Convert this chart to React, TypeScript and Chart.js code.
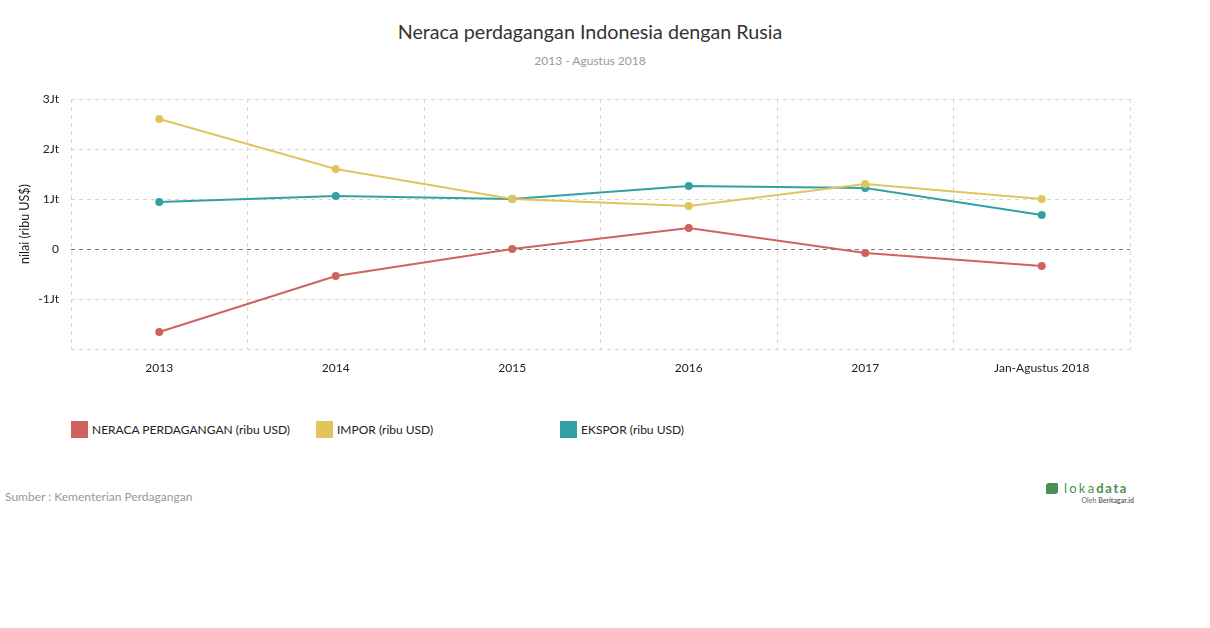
import React, { useEffect, useRef } from "react";
import { Chart, registerables } from "chart.js";

Chart.register(...registerables);

const categories = ["2013", "2014", "2015", "2016", "2017", "Jan-Agustus 2018"];
const neraca = [-1660000, -540000, 0, 420000, -80000, -340000];
const impor = [2600000, 1600000, 1000000, 860000, 1300000, 1000000];
const ekspor = [940000, 1060000, 1000000, 1260000, 1220000, 680000];
const seriesNames = ["NERACA PERDAGANGAN (ribu USD)", "IMPOR (ribu USD)", "EKSPOR (ribu USD)"];
const seriesColors = ["#d0625f", "#e0c45c", "#33a1a3"];
const yTicks = [-2000000, -1000000, 0, 1000000, 2000000, 3000000];

const FONT = "Lato, 'Open Sans', sans-serif";

export default function App() {
  const ref = useRef<HTMLCanvasElement | null>(null);

  useEffect(() => {
    if (!ref.current) return;
    const series = [neraca, impor, ekspor];
    const chart = new Chart(ref.current, {
      type: "line",
      data: {
        labels: categories,
        datasets: series.map((d, i) => ({
          label: seriesNames[i],
          data: d,
          borderColor: seriesColors[i],
          backgroundColor: seriesColors[i],
          pointBackgroundColor: seriesColors[i],
          pointBorderColor: seriesColors[i],
          borderWidth: 2,
          pointRadius: 3,
          tension: 0,
          fill: false,
        })),
      },
      options: {
        responsive: false,
        animation: false,
        layout: { padding: { top: 99, right: 80, left: 0, bottom: 0 } },
        plugins: { legend: { display: false }, title: { display: false }, tooltip: { enabled: false } },
        scales: {
          x: {
            type: "category",
            offset: true,
            grid: {
              offset: true,
              color: "#d6d6d6",
              drawTicks: false,
              lineWidth: 1,
            },
            border: { display: false, dash: [4, 4] },
            ticks: { color: "#222", font: { family: FONT, size: 12 }, padding: 12, maxRotation: 0 },
            afterFit: (axis: any) => { axis.height = 40; },
          },
          y: {
            min: -2000000,
            max: 3000000,
            afterBuildTicks: (axis: any) => { axis.ticks = yTicks.map((v) => ({ value: v })); },
            grid: {
              color: (ctx: any) => (ctx.tick && ctx.tick.value === 0 ? "#777777" : "#d6d6d6"),
              drawTicks: false,
              lineWidth: 1,
            },
            border: { display: false, dash: [4, 4] },
            ticks: {
              color: "#222",
              font: { family: FONT, size: 12 },
              padding: 12,
              callback: (v: any) => {
                const n = Number(v);
                if (n === 0) return "0";
                if (n === -2000000) return "";
                return n / 1000000 + "Jt";
              },
            },
            title: {
              display: true,
              text: "nilai (ribu US$)",
              color: "#222",
              font: { family: FONT, size: 12.5 },
              padding: { top: 17, bottom: 0 },
            },
            afterFit: (axis: any) => { axis.width = 71; },
          },
        },
      },
    });
    return () => chart.destroy();
  }, []);

  return (
    <div style={{ position: "absolute", left: 0, top: 0, width: 1210, height: 628, fontFamily: FONT, background: "#fff" }}>
      <div style={{ position: "absolute", left: 0, top: 19, width: 1180, textAlign: "center", fontSize: 19.7, color: "#333", lineHeight: "26px" }}>
        Neraca perdagangan Indonesia dengan Rusia
      </div>
      <div style={{ position: "absolute", left: 0, top: 53, width: 1180, textAlign: "center", fontSize: 12, color: "#999", lineHeight: "16px" }}>
        2013 - Agustus 2018
      </div>
      <canvas ref={ref} width={1210} height={389} style={{ position: "absolute", left: 0, top: 0, width: 1210, height: 389 }} />
      {seriesNames.map((name, i) => (
        <div key={name} style={{ position: "absolute", left: [71, 316, 560][i], top: 421, height: 17, display: "flex", alignItems: "center", fontSize: 12, color: "#222", whiteSpace: "nowrap" }}>
          <span style={{ display: "inline-block", width: 17, height: 17, background: seriesColors[i], marginRight: 4 }} />
          {name}
        </div>
      ))}
      <div style={{ position: "absolute", left: 5, top: 489, fontSize: 12, color: "#999", lineHeight: "16px" }}>
        Sumber : Kementerian Perdagangan
      </div>
      <div style={{ position: "absolute", left: 1046, top: 480, width: 90 }}>
        <div style={{ display: "flex", alignItems: "center", height: 16 }}>
          <span style={{ display: "inline-block", width: 12, height: 11, background: "#4d8f52", borderRadius: "3px 1px 3px 1px", marginRight: 6 }} />
          <span style={{ fontSize: 13, color: "#4d8f52", letterSpacing: 2.2 }}>loka</span>
          <span style={{ fontSize: 13, color: "#4d8f52", letterSpacing: 1.6, fontWeight: 700 }}>data</span>
        </div>
        <div style={{ fontSize: 7, color: "#666", textAlign: "right", marginRight: 2, lineHeight: "9px" }}>
          Oleh <b>Beritagar.id</b>
        </div>
      </div>
    </div>
  );
}
